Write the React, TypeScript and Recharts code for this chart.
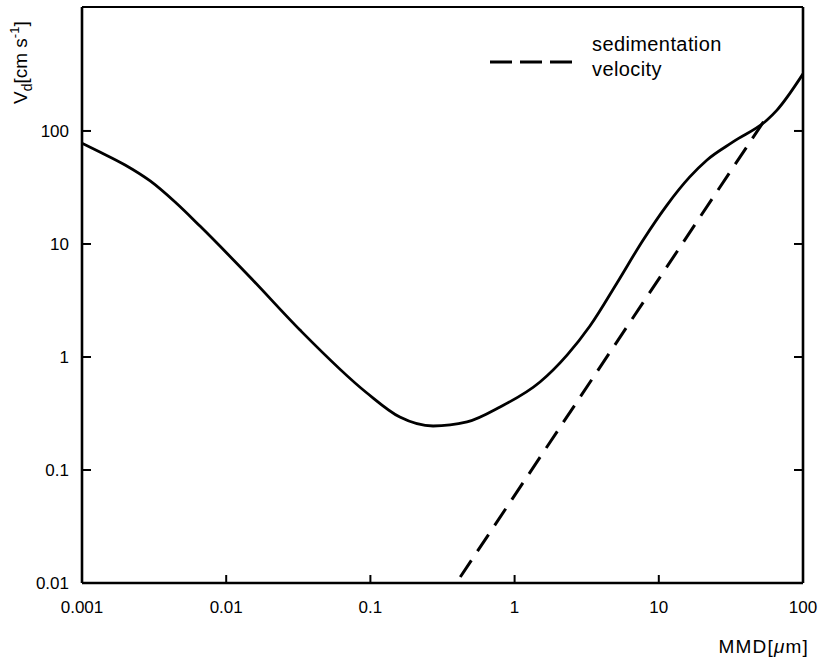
import React from "react";
import { LineChart, Line, XAxis, YAxis, Legend } from "recharts";

// Mass median diameter (µm) and deposition velocity (cm/s)
const sizes = [0.001, 0.00133, 0.00199, 0.00297, 0.00442, 0.00658, 0.0146, 0.0325, 0.0946, 0.16, 0.272, 0.468, 0.793, 1.5, 2.31, 3.33, 5.13, 7.77, 11.4, 16.4, 21.6, 32.7, 56.3, 66, 100];
const vd = [78, 65.2, 50, 36.1, 23.5, 14.4, 5.1, 1.73, 0.48, 0.294, 0.245, 0.266, 0.361, 0.601, 1.04, 1.88, 4.52, 10.8, 22.1, 39.2, 55.4, 80, 125, 153, 320];

// Sedimentation velocity (dashed)
const sedSizes = [0.42, 56];
const sedVel = [0.0113, 133];

const xTicks = [0.001, 0.01, 0.1, 1, 10, 100];
const yTicks = [0.01, 0.1, 1, 10, 100];
const rightTicks = [0.1, 1, 10, 100];

const legendLines = ["sedimentation", "velocity"];

const FONT = "'Liberation Sans', Arial, Helvetica, sans-serif";

const solidData = sizes.map((x, i) => ({ x, vd: vd[i] }));
const sedData = sedSizes.map((x, i) => ({ x, sed: sedVel[i] }));

const XTick = (props: any) => {
  const { x, y, payload } = props;
  const edge = payload.value === 0.001 || payload.value === 100;
  return (
    <g>
      {!edge && <line x1={x} x2={x} y1={y} y2={y - 8} stroke="#000" strokeWidth={2} />}
      <text x={x} y={y + 30} textAnchor="middle" fontSize={17} fontFamily={FONT} fill="#000">
        {String(payload.value)}
      </text>
    </g>
  );
};

const YTick = (props: any) => {
  const { x, y, payload } = props;
  const edge = payload.value === 0.01;
  return (
    <g>
      {!edge && <line x1={x} x2={x + 9} y1={y} y2={y} stroke="#000" strokeWidth={2} />}
      <text x={x - 13} y={y} dy="0.35em" textAnchor="end" fontSize={17} fontFamily={FONT} fill="#000">
        {String(payload.value)}
      </text>
    </g>
  );
};

const RTick = (props: any) => {
  const { x, y } = props;
  return <line x1={x - 9} x2={x} y1={y} y2={y} stroke="#000" strokeWidth={2} />;
};

const LegendBox = () => (
  <div style={{ position: "relative", width: 270, height: 70, fontFamily: FONT, color: "#000" }}>
    <svg width={84} height={8} style={{ position: "absolute", left: 0, top: 28 }}>
      <line x1={2} y1={4} x2={84} y2={4} stroke="#000" strokeWidth={3} strokeDasharray="22 8" />
    </svg>
    <div style={{ position: "absolute", left: 104, top: 2, fontSize: 20, lineHeight: "25px", letterSpacing: 0.4 }}>
      {legendLines[0]}
      <br />
      {legendLines[1]}
    </div>
  </div>
);

export default function App() {
  return (
    <div style={{ position: "absolute", left: 0, top: 0, background: "#fff" }}>
      <LineChart width={821} height={660} margin={{ top: 6, right: 17, bottom: 47, left: 22 }}>
        <XAxis
          dataKey="x"
          type="number"
          scale="log"
          domain={[0.001, 100]}
          ticks={xTicks}
          allowDataOverflow
          height={30}
          tickSize={0}
          tickMargin={0}
          tickLine={false}
          tick={<XTick />}
          axisLine={{ stroke: "#000", strokeWidth: 2.6 }}
          label={{
            content: () => (
              <text x={809} y={653} textAnchor="end" fontSize={19} fontFamily={FONT} letterSpacing={1.2} fill="#000">
                MMD[<tspan fontStyle="italic">μ</tspan>m]
              </text>
            ),
          }}
        />
        <XAxis
          xAxisId="top"
          orientation="top"
          dataKey="x"
          type="number"
          scale="log"
          domain={[0.001, 100]}
          allowDataOverflow
          height={1}
          tick={false}
          tickLine={false}
          axisLine={{ stroke: "#000", strokeWidth: 2.2 }}
        />
        <YAxis
          type="number"
          scale="log"
          domain={[0.01, 1250]}
          ticks={yTicks}
          allowDataOverflow
          width={60}
          tickSize={0}
          tickMargin={0}
          tickLine={false}
          tick={<YTick />}
          axisLine={{ stroke: "#000", strokeWidth: 2.6 }}
          label={{
            content: () => (
              <text transform="translate(27,104) rotate(-90)" fontSize={19} fontFamily={FONT} fill="#000">
                V<tspan dy={5} fontSize={14}>d</tspan>
                <tspan dy={-5}>[cm s</tspan>
                <tspan dy={-8} fontSize={13}>-1</tspan>
                <tspan dy={8}>]</tspan>
              </text>
            ),
          }}
        />
        <YAxis
          yAxisId="r"
          orientation="right"
          type="number"
          scale="log"
          domain={[0.01, 1250]}
          ticks={rightTicks}
          allowDataOverflow
          width={1}
          tickSize={0}
          tickMargin={0}
          tickLine={false}
          tick={<RTick />}
          axisLine={{ stroke: "#000", strokeWidth: 2.6 }}
        />
        <Legend
          layout="horizontal"
          verticalAlign="middle"
          content={<LegendBox />}
          wrapperStyle={{ position: "absolute", left: 488, top: 30, width: 280, height: 70 }}
        />
        <Line
          data={solidData}
          dataKey="vd"
          type="monotone"
          stroke="#000"
          strokeWidth={2.8}
          dot={false}
          isAnimationActive={false}
        />
        <Line
          data={sedData}
          dataKey="sed"
          type="linear"
          stroke="#000"
          strokeWidth={3}
          strokeDasharray="20 11"
          dot={false}
          isAnimationActive={false}
        />
      </LineChart>
    </div>
  );
}
